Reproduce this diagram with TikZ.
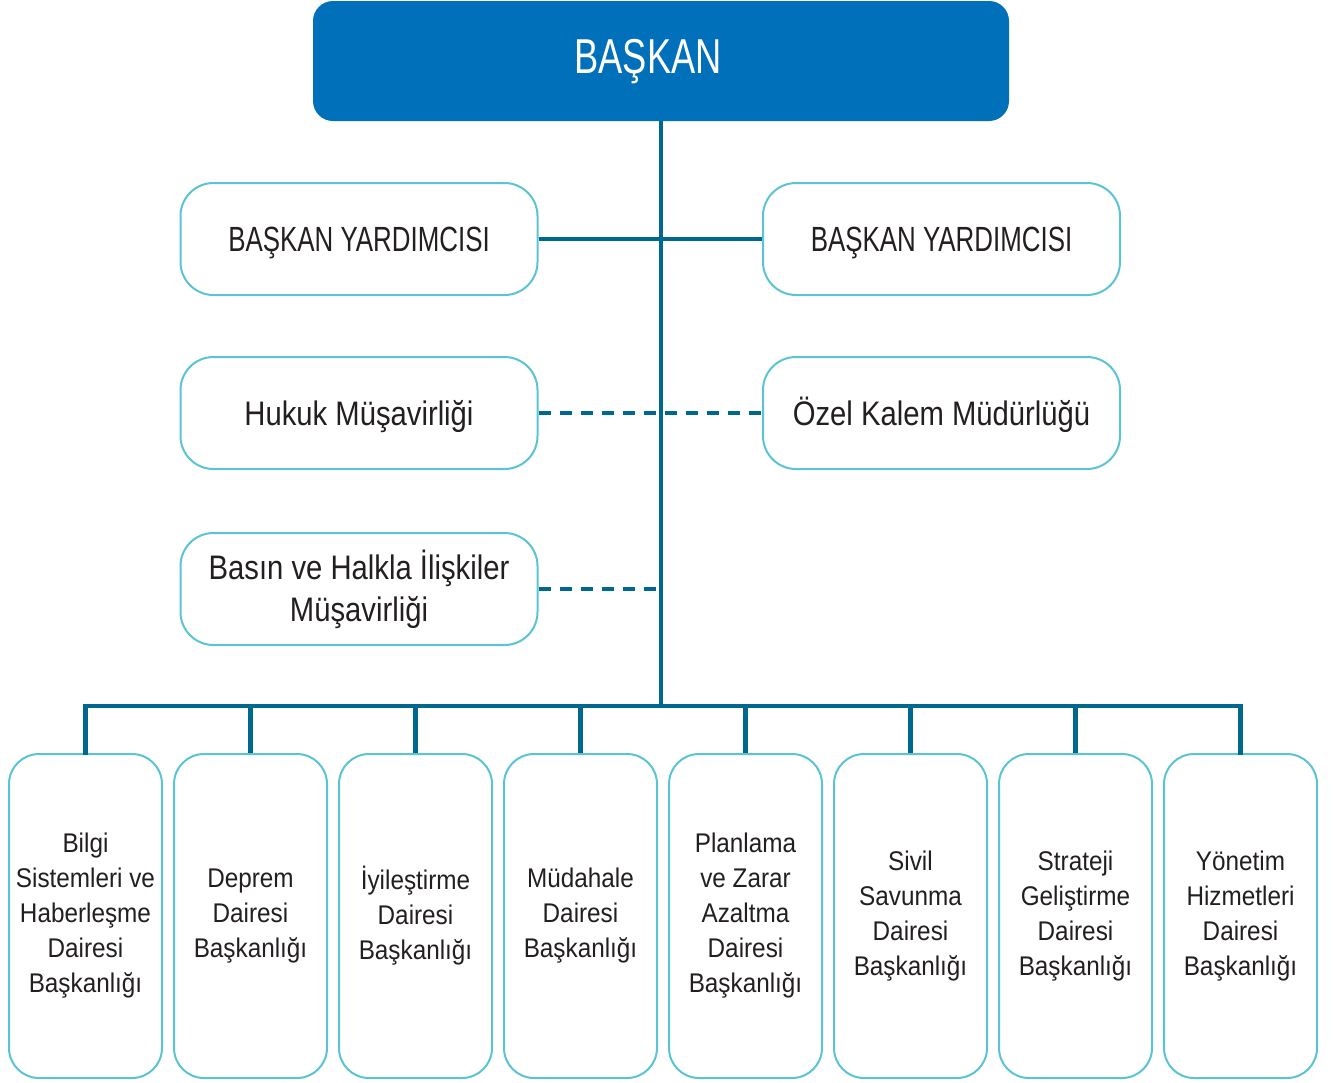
\documentclass[tikz,border=0pt]{standalone}
\usepackage{fontspec}
\setmainfont[FakeStretch=0.9]{Liberation Sans}
\newfontfamily\midfont[FakeStretch=0.86]{Liberation Sans}
\newfontfamily\capsfont[FakeStretch=0.74]{Liberation Sans}
\definecolor{topblue}{HTML}{0070BA}
\definecolor{trunk}{HTML}{00688F}
\definecolor{rim}{HTML}{5BC4D4}
\definecolor{txt}{HTML}{231F20}
\tikzset{
  chief/.style={rectangle, rounded corners=20pt, fill=topblue, text=white, inner sep=0pt,
    minimum width=696pt, minimum height=120pt, text height=35pt, text depth=10pt,
    font=\capsfont\fontsize{49}{52}\selectfont},
  midbox/.style={rectangle, rounded corners=33pt, draw=rim, line width=2pt, fill=white, text=txt,
    inner sep=0pt, minimum width=357pt, minimum height=112pt, align=center,
    font=\midfont\fontsize{34}{42}\selectfont},
  onebox/.style={midbox, text height=24.5pt, text depth=0pt},
  capbox/.style={onebox, font=\capsfont\fontsize{35}{42}\selectfont, text height=25pt},
  unitbox/.style={rectangle, rounded corners=30pt, draw=rim, line width=2pt, fill=white, text=txt,
    inner sep=0pt, minimum width=153pt, minimum height=324pt, align=center,
    font=\fontsize{27}{35}\selectfont},
  solidlink/.style={draw=trunk, line width=4.5pt},
  dashlink/.style={draw=trunk, line width=4.5pt, dash pattern=on 12pt off 9pt},
}
\begin{document}
\begin{tikzpicture}[x=1pt,y=-1pt]
\useasboundingbox (0,0) rectangle (1338,1082);
\node[chief] (chief) at (661,61) {\hspace*{-26pt}BAŞKAN};
\node[capbox] (vl) at (359,239) {BAŞKAN YARDIMCISI};
\node[capbox] (vr) at (941.5,239) {BAŞKAN YARDIMCISI};
\node[onebox] (huk) at (359,413) {Hukuk Müşavirliği};
\node[onebox] (oz) at (941.5,413) {Özel Kalem Müdürlüğü};
\node[midbox] (bas) at (359,589) {Basın ve Halkla İlişkiler\\Müşavirliği};
\node[unitbox] (u1) at (85.5,916) {Bilgi\\Sistemleri ve\\Haberleşme\\Dairesi\\Başkanlığı};
\node[unitbox] (u2) at (250.5,916) {Deprem\\Dairesi\\Başkanlığı};
\node[unitbox] (u3) at (415.5,916) {İyileştirme\\Dairesi\\Başkanlığı};
\node[unitbox] (u4) at (580.5,916) {Müdahale\\Dairesi\\Başkanlığı};
\node[unitbox] (u5) at (745.5,916) {Planlama\\ve Zarar\\Azaltma\\Dairesi\\Başkanlığı};
\node[unitbox] (u6) at (910.5,916) {Sivil\\Savunma\\Dairesi\\Başkanlığı};
\node[unitbox] (u7) at (1075.5,916) {Strateji\\Geliştirme\\Dairesi\\Başkanlığı};
\node[unitbox] (u8) at (1240.5,916) {Yönetim\\Hizmetleri\\Dairesi\\Başkanlığı};
\coordinate (bus) at (661,706);
\coordinate (bastap) at (661,589);
\path[solidlink] (chief.south) -- (bus);
\path[solidlink] (vl.east) -- (vr.west);
\path[dashlink] (huk.east) -- (oz.west);
\path[dashlink] (bas.east) -- (bastap);
\path[solidlink, line cap=rect] (u1.north) |- (bus) -| (u8.north);
\foreach \u in {u2,u3,u4,u5,u6,u7} {
  \path[solidlink] (\u.north) -- (\u.north |- bus);
}
\end{tikzpicture}
\end{document}
